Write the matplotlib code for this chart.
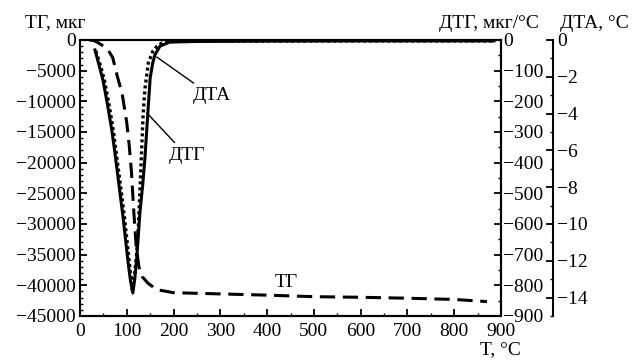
import matplotlib
matplotlib.use("Agg")
import matplotlib.pyplot as plt
from matplotlib.ticker import MultipleLocator

plt.rcParams['font.family'] = ['Liberation Serif', 'DejaVu Serif']
plt.rcParams['axes.unicode_minus'] = True

# TG, mkg
tg_T = [20, 30, 40, 50, 60, 70, 80, 90, 100, 105, 110, 115, 120, 126, 133, 146, 164,
        200, 250, 300, 400, 500, 600, 700, 800, 870]
tg_v = [0, -100, -500, -1000, -1600, -2900, -6000, -8700, -13500, -17000, -21500,
        -28000, -33500, -37000, -38600, -39700, -40700, -41200, -41300, -41400,
        -41600, -41850, -41950, -42100, -42300, -42650]

# DTG, mkg/°C (dotted)
dtg_T = [34, 45, 52, 62, 71, 78, 85, 95, 105, 112, 117, 121, 125, 130, 135, 139, 146,
         156, 165, 175, 200, 300, 500, 700, 885]
dtg_v = [-36, -90, -130, -210, -293, -375, -456, -577, -720, -815, -760, -700, -600,
         -424, -240, -157, -75, -36, -20, -10, -5, -3, -3, -3, -3]

# DTA, °C (solid)
dta_T = [32, 40, 49, 58, 68, 75, 82, 92, 103, 108, 113, 117, 121, 128, 134, 139, 145,
         150, 155, 160, 171, 192, 250, 400, 600, 885]
dta_v = [-0.54, -1.3, -2.17, -3.4, -4.89, -6.2, -7.61, -9.62, -12.12, -13.1, -13.75,
         -13.0, -11.96, -9.4, -7.9, -6.36, -3.97, -2.07, -1.3, -0.82, -0.33, -0.11,
         -0.08, -0.06, -0.05, -0.05]

tg_ticks = list(range(0, -45001, -5000))
dtg_ticks = list(range(0, -901, -100))
dta_ticks = list(range(0, -15, -2))
x_ticks = list(range(0, 901, 100))

fig = plt.figure(figsize=(6.35, 3.61), dpi=100)
ax = fig.add_axes([80/635, 1-316/361, (501-80)/635, (316-40)/361])
ax2 = ax.twinx()
ax3 = ax.twinx()
ax3.spines['right'].set_position(('outward', 52*0.72))

fs = 14
lw_sp = 1.5

ax.plot(tg_T, tg_v, color='black', lw=2.2, linestyle=(0, (5, 2.5)), zorder=3)
ax2.plot(dtg_T, dtg_v, color='black', lw=2.4, linestyle=(0, (0.9, 0.9)), zorder=3)
ax3.plot(dta_T, dta_v, color='black', lw=2.2, linestyle='-', zorder=3)

ax.set_xlim(0, 900)
ax.set_ylim(-45000, 0)
ax2.set_ylim(-900, 0)
ax3.set_ylim(-15, 0)

ax.set_xticks(x_ticks)
ax.xaxis.set_minor_locator(MultipleLocator(50))
ax.set_yticks(tg_ticks)
ax.yaxis.set_minor_locator(MultipleLocator(1000))
ax2.set_yticks(dtg_ticks)
ax2.yaxis.set_minor_locator(MultipleLocator(50))
ax3.set_yticks(dta_ticks)
ax3.yaxis.set_minor_locator(MultipleLocator(1))

for a in (ax, ax2, ax3):
    for s in a.spines.values():
        s.set_linewidth(lw_sp)
ax3.spines['left'].set_visible(False)
ax3.spines['top'].set_visible(False)
ax3.spines['bottom'].set_visible(False)
ax2.spines['left'].set_visible(False)

ax.tick_params(axis='both', which='major', direction='in', length=5, width=1.3,
               labelsize=fs, top=False, right=False)
ax.tick_params(axis='both', which='minor', direction='in', length=2.5, width=1.0,
               top=False, right=False)
ax.tick_params(axis='y', pad=3)
ax.tick_params(axis='x', pad=5)
ax2.tick_params(axis='y', which='major', direction='in', length=5, width=1.3,
                labelsize=fs, pad=1.5)
ax2.tick_params(axis='y', which='minor', direction='in', length=2.5, width=1.0)
ax3.tick_params(axis='y', which='major', direction='in', length=5, width=1.3,
                labelsize=fs, pad=3)
ax3.tick_params(axis='y', which='minor', direction='in', length=2.5, width=1.0)

# curve labels
ax.annotate('ДТА', xy=(164, -2770), xytext=(282, -9130), fontsize=fs,
            ha='center', va='center',
            arrowprops=dict(arrowstyle='-', color='black', lw=1.0, shrinkA=2, shrinkB=0))
ax.annotate('ДТГ', xy=(143, -11900), xytext=(229, -18900), fontsize=fs,
            ha='center', va='center',
            arrowprops=dict(arrowstyle='-', color='black', lw=1.0, shrinkA=2, shrinkB=0))
ax.text(442, -39600, 'ТГ', fontsize=fs, ha='center', va='center')

fig.text(55/635, 1-23/361, 'ТГ, мкг', fontsize=fs, ha='center', va='center')
fig.text(489/635, 1-23/361, 'ДТГ, мкг/°С', fontsize=fs, ha='center', va='center')
fig.text(594/635, 1-23/361, 'ДТА, °С', fontsize=fs, ha='center', va='center')
fig.text(500/635, 1-350/361, 'T, °C', fontsize=fs, ha='center', va='center')

fig.savefig('out.png', dpi=100)
